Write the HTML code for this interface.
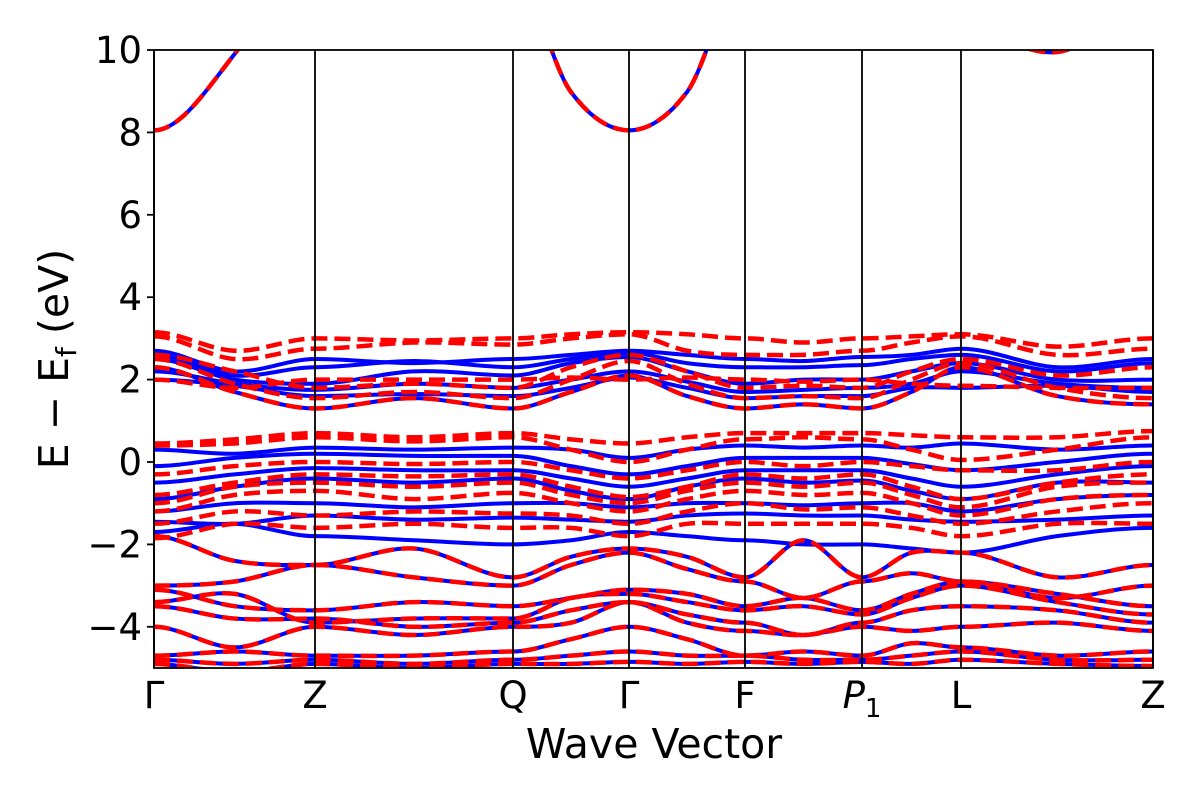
<!DOCTYPE html>
<html><head><meta charset="utf-8"><style>
html,body{margin:0;padding:0;background:#fff;}
svg{display:block;font-family:"DejaVu Sans","Liberation Sans",sans-serif;}
</style></head><body>
<svg id="chart" width="1200" height="800">
<defs><clipPath id="clip"><rect x="154" y="50" width="999" height="618"/></clipPath></defs>
<g id="bands" clip-path="url(#clip)"></g>
<g id="axes"></g>
</svg>
<script>
const kLabels = ["Γ","Z","Q","Γ","F","P1","L","Z"];
const kPos = [154,315,513,629,745,862,961,1153];
const yTicks = [10,8,6,4,2,0,-2,-4];
const yMin = -5, yMax = 10;
// values at: G,m,Z,m,Q,m,G,m,F,m,P1,m,L,m,Z
const blueBands = [
[8.05,9.9,13,11.8,11.8,8.98,8.05,8.98,11.8,13,13,13,10.5,9.95,11],
[2.7,2.2,2.5,2.4,2.5,2.6,2.7,2.6,2.5,2.45,2.55,2.6,2.75,2.3,2.5],
[2.6,2.1,2.3,2.45,2.3,2.5,2.65,2.4,2.3,2.3,2.35,2.5,2.6,2.2,2.4],
[2.5,2.0,1.9,2.2,2.1,2.4,2.55,2.2,1.9,2.0,2.0,2.2,2.4,2.0,2.0],
[2.2,1.9,1.75,1.9,1.8,2.0,2.2,1.95,1.7,1.75,1.8,1.9,2.2,1.9,1.8],
[2.0,1.85,1.6,1.65,1.6,1.8,2.05,1.8,1.55,1.6,1.6,1.8,1.8,1.85,1.7],
[2.3,1.7,1.3,1.55,1.3,1.7,2.1,1.6,1.3,1.4,1.3,1.7,2.3,1.6,1.4],
[0.3,0.2,0.35,0.3,0.35,0.3,0.1,0.3,0.4,0.35,0.4,0.35,0.45,0.3,0.4],
[-0.1,0.1,0.2,0.15,0.15,-0.1,-0.3,-0.1,0.1,0.1,0.1,-0.05,-0.2,0.0,0.2],
[-0.5,-0.3,-0.15,-0.2,-0.2,-0.4,-0.6,-0.4,-0.2,-0.2,-0.2,-0.4,-0.6,-0.3,-0.1],
[-0.9,-0.6,-0.4,-0.5,-0.4,-0.7,-0.9,-0.6,-0.4,-0.5,-0.45,-0.7,-0.9,-0.5,-0.5],
[-1.2,-1.0,-1.0,-1.1,-1.0,-1.0,-1.1,-1.0,-1.0,-1.05,-1.0,-1.0,-1.2,-0.9,-0.8],
[-1.45,-1.5,-1.3,-1.4,-1.35,-1.4,-1.45,-1.3,-1.25,-1.3,-1.3,-1.4,-1.45,-1.4,-1.3],
[-1.7,-1.5,-1.8,-1.9,-2.0,-1.9,-1.7,-1.8,-1.9,-2.0,-2.0,-2.1,-2.2,-1.8,-1.6],
[-1.8,-2.4,-2.5,-2.1,-2.8,-2.3,-2.1,-2.3,-2.8,-1.9,-2.8,-2.2,-2.2,-2.8,-2.5],
[-3.0,-2.9,-2.5,-2.8,-3.0,-2.5,-2.2,-2.6,-2.9,-3.3,-2.9,-2.7,-2.9,-3.3,-3.0],
[-3.1,-3.5,-3.6,-3.4,-3.5,-3.3,-3.1,-3.2,-3.5,-3.3,-3.6,-3.2,-2.9,-3.2,-3.5],
[-3.4,-3.2,-3.9,-3.8,-3.8,-3.3,-3.2,-3.4,-3.6,-3.5,-3.7,-3.3,-3.0,-3.4,-3.7],
[-3.5,-3.8,-3.8,-4.0,-3.9,-3.6,-3.4,-3.7,-3.9,-4.2,-3.9,-3.6,-3.5,-3.6,-3.9],
[-4.0,-4.5,-4.0,-4.2,-4.0,-3.9,-3.4,-3.9,-4.1,-4.2,-4.0,-4.1,-4.0,-3.9,-4.1],
[-4.7,-4.6,-4.7,-4.7,-4.6,-4.3,-4.0,-4.3,-4.7,-4.6,-4.7,-4.4,-4.5,-4.7,-4.6],
[-4.8,-4.9,-4.8,-4.9,-4.8,-4.7,-4.6,-4.7,-4.7,-4.8,-4.8,-4.7,-4.6,-4.8,-4.8],
[-4.9,-5.1,-4.9,-5.0,-4.9,-4.9,-4.85,-4.9,-4.85,-4.9,-4.85,-4.9,-4.8,-4.9,-4.95]
];
const redBands = [
[8.05,9.9,13,11.8,11.8,8.98,8.05,8.98,11.8,13,13,13,10.5,9.95,11],
[3.15,2.7,3.0,2.95,3.0,3.1,3.15,3.1,3.0,2.9,3.0,3.05,3.1,2.8,3.0],
[3.05,2.5,2.75,2.9,2.85,3.0,3.1,2.7,2.6,2.6,2.7,2.9,3.05,2.6,2.75],
[2.6,2.2,1.8,1.9,1.8,2.3,2.6,2.2,1.8,1.85,1.8,2.2,2.5,2.1,2.3],
[2.5,1.9,1.55,1.7,1.55,2.0,2.45,1.9,1.55,1.6,1.55,2.0,2.4,1.8,1.55],
[2.3,1.7,1.3,1.55,1.3,1.7,2.1,1.6,1.3,1.4,1.3,1.7,2.3,1.6,1.4],
[2.0,1.8,2.0,2.0,2.0,2.05,2.0,2.05,2.0,1.95,2.0,1.9,1.85,1.8,1.8],
[0.45,0.55,0.7,0.6,0.7,0.55,0.45,0.6,0.7,0.7,0.7,0.65,0.6,0.6,0.75],
[0.4,0.45,0.6,0.5,0.6,0.3,0.0,0.3,0.55,0.6,0.55,0.3,0.05,0.3,0.6],
[-0.3,-0.1,0.0,-0.05,0.0,-0.2,-0.4,-0.2,0.0,-0.1,0.0,-0.1,-0.2,-0.2,0.0],
[-0.8,-0.5,-0.3,-0.35,-0.3,-0.6,-0.85,-0.6,-0.3,-0.4,-0.3,-0.6,-0.9,-0.5,-0.3],
[-1.0,-0.6,-0.5,-0.6,-0.5,-0.8,-1.0,-0.7,-0.5,-0.6,-0.5,-0.8,-1.1,-0.6,-0.5],
[-1.2,-0.8,-0.7,-0.9,-0.75,-1.0,-1.2,-0.9,-0.7,-0.8,-0.75,-1.0,-1.3,-0.9,-0.8],
[-1.5,-1.2,-1.3,-1.2,-1.25,-1.3,-1.5,-1.2,-1.0,-1.15,-1.1,-1.3,-1.5,-1.2,-1.0],
[-1.85,-1.5,-1.6,-1.5,-1.6,-1.6,-1.8,-1.5,-1.5,-1.5,-1.5,-1.6,-1.8,-1.5,-1.5],
[-1.8,-2.4,-2.5,-2.1,-2.8,-2.3,-2.1,-2.3,-2.8,-1.9,-2.8,-2.2,-2.2,-2.8,-2.5],
[-3.0,-2.9,-2.5,-2.8,-3.0,-2.5,-2.2,-2.6,-2.9,-3.3,-2.9,-2.7,-2.9,-3.3,-3.0],
[-3.1,-3.5,-3.6,-3.4,-3.5,-3.3,-3.1,-3.2,-3.5,-3.3,-3.6,-3.2,-2.9,-3.2,-3.5],
[-3.4,-3.2,-3.9,-3.8,-3.8,-3.3,-3.2,-3.4,-3.6,-3.5,-3.7,-3.3,-3.0,-3.4,-3.7],
[-3.5,-3.8,-3.8,-4.0,-3.9,-3.6,-3.4,-3.7,-3.9,-4.2,-3.9,-3.6,-3.5,-3.6,-3.9],
[-4.0,-4.5,-4.0,-4.2,-4.0,-3.9,-3.4,-3.9,-4.1,-4.2,-4.0,-4.1,-4.0,-3.9,-4.1],
[-4.7,-4.6,-4.7,-4.7,-4.6,-4.3,-4.0,-4.3,-4.7,-4.6,-4.7,-4.4,-4.5,-4.7,-4.6],
[-4.8,-4.9,-4.8,-4.9,-4.8,-4.7,-4.6,-4.7,-4.7,-4.8,-4.8,-4.7,-4.6,-4.8,-4.8],
[-4.9,-5.1,-4.9,-5.0,-4.9,-4.9,-4.85,-4.9,-4.85,-4.9,-4.85,-4.9,-4.8,-4.9,-4.95]
];
const NS="http://www.w3.org/2000/svg";
const X0=154,X1=1153,Y0=50,Y1=668;
function yS(v){return Y0+(yMax-v)/(yMax-yMin)*(Y1-Y0);}
function sampleX(i){const s=Math.floor(i/2);if(i%2===0)return kPos[s];return (kPos[s]+kPos[s+1])/2;}
function pathFor(vals){
  const p=vals.map((v,i)=>[sampleX(i),yS(v)]);
  let d="M"+p[0][0]+","+p[0][1];
  for(let i=0;i<p.length-1;i++){
    const a=p[Math.max(0,i-1)],b=p[i],c=p[i+1],e=p[Math.min(p.length-1,i+2)];
    const dx=(c[0]-b[0])/3;
    const m1=(i%2===0)?0:(c[1]-a[1])/(c[0]-a[0]);
    const m2=((i+1)%2===0)?0:(e[1]-b[1])/(e[0]-b[0]);
    d+=" C"+(b[0]+dx)+","+(b[1]+m1*dx)+" "+(c[0]-dx)+","+(c[1]-m2*dx)+" "+c[0]+","+c[1];
  }
  return d;
}
const g=document.getElementById("bands");
blueBands.forEach((b,i)=>{
  const el=document.createElementNS(NS,"path");
  el.setAttribute("d",pathFor(b));
  el.setAttribute("fill","none");el.setAttribute("stroke","#0000ff");el.setAttribute("stroke-width","4");
  
  
  g.appendChild(el);
});
redBands.forEach((b,i)=>{
  const el=document.createElementNS(NS,"path");
  el.setAttribute("d",pathFor(b));
  el.setAttribute("fill","none");el.setAttribute("stroke","#ff0000");el.setAttribute("stroke-width","4.5");
  el.setAttribute("stroke-dasharray","16,7");
  
  
  g.appendChild(el);
});
const ax=document.getElementById("axes");
kPos.forEach((x,i)=>{
  const l=document.createElementNS(NS,"line");
  l.setAttribute("x1",x);l.setAttribute("x2",x);l.setAttribute("y1",Y0);l.setAttribute("y2",Y1);
  l.setAttribute("stroke","#000");l.setAttribute("stroke-width","1.8");
  
  
  ax.appendChild(l);
  const t=document.createElementNS(NS,"text");
  t.setAttribute("x",x);t.setAttribute("y",708);t.setAttribute("text-anchor","middle");t.setAttribute("font-size","37");
  if(kLabels[i]==="P1"){t.innerHTML='<tspan font-style="italic">P</tspan><tspan font-size="26" dy="9">1</tspan>';}
  else t.textContent=kLabels[i];
  
  
  ax.appendChild(t);
});
yTicks.forEach(v=>{
  const y=yS(v);
  const l=document.createElementNS(NS,"line");
  l.setAttribute("x1",X0-7);l.setAttribute("x2",X0);l.setAttribute("y1",y);l.setAttribute("y2",y);
  l.setAttribute("stroke","#000");l.setAttribute("stroke-width","1.8");
  
  
  ax.appendChild(l);
  const t=document.createElementNS(NS,"text");
  t.setAttribute("x",X0-12);t.setAttribute("y",y+13);t.setAttribute("text-anchor","end");t.setAttribute("font-size","37");
  t.textContent=v<0?"\u2212"+(-v):String(v);
  
  
  ax.appendChild(t);
});
const fr=document.createElementNS(NS,"rect");
fr.setAttribute("x",X0);fr.setAttribute("y",Y0);fr.setAttribute("width",X1-X0);fr.setAttribute("height",Y1-Y0);
fr.setAttribute("fill","none");fr.setAttribute("stroke","#000");fr.setAttribute("stroke-width","1.8");


ax.appendChild(fr);
const xt=document.createElementNS(NS,"text");
xt.setAttribute("x",654);xt.setAttribute("y",758);xt.setAttribute("text-anchor","middle");xt.setAttribute("font-size","41");
xt.textContent="Wave Vector";


ax.appendChild(xt);
const yt=document.createElementNS(NS,"text");
yt.setAttribute("transform","translate(68,359) rotate(-90)");yt.setAttribute("text-anchor","middle");yt.setAttribute("font-size","41");
yt.innerHTML='E \u2212 E<tspan font-size="28" dy="8">f</tspan><tspan dy="-8"> (eV)</tspan>';


ax.appendChild(yt);
</script>
</body></html>
